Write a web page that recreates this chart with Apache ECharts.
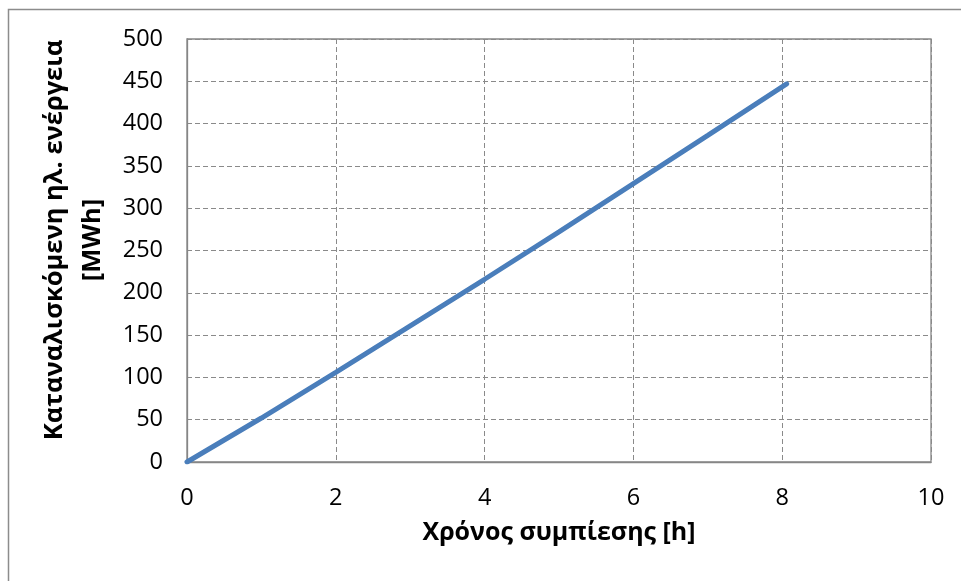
<!DOCTYPE html>
<html>
<head>
<meta charset="utf-8">
<script src="https://cdn.jsdelivr.net/npm/echarts@6/dist/echarts.min.js"></script>
<style>
html,body{margin:0;padding:0;background:#fff;}
#c{width:961px;height:581px;}
</style>
</head>
<body>
<div id="c"></div>
<script>
// Data
var timeHours = [0, 1, 2, 3, 4, 5, 6, 7, 8.06];
var energyMWh = [0, 52, 106, 161, 216, 272, 329, 386, 447];
var xTitle = 'Χρόνος συμπίεσης [h]';
var yTitleLines = ['Καταναλισκόμενη ηλ. ενέργεια', '[MWh]'];

var seriesData = timeHours.map(function (t, i) { return [t, energyMWh[i]]; });

var FONT = 'Open Sans';
var chart = echarts.init(document.getElementById('c'));
chart.setOption({
  backgroundColor: '#ffffff',
  animation: false,
  grid: {
    left: 187, right: 30, top: 39, bottom: 119,
    show: true, borderColor: '#868686', borderWidth: 1.3, containLabel: false
  },
  xAxis: {
    type: 'value', min: 0, max: 10, interval: 2,
    axisLine: { show: true, lineStyle: { color: '#868686', width: 1.3 } },
    axisTick: { show: false },
    splitLine: { show: true, lineStyle: { color: '#8a8a8a', width: 1, type: [5, 3] } },
    axisLabel: { color: '#000', fontFamily: FONT, fontSize: 23.5, margin: 24 },
    name: xTitle, nameLocation: 'middle', nameGap: 58,
    nameTextStyle: { color: '#000', fontFamily: FONT, fontSize: 25, fontWeight: 'bold' }
  },
  yAxis: {
    type: 'value', min: 0, max: 500, interval: 50,
    axisLine: { show: true, lineStyle: { color: '#868686', width: 1.3 } },
    axisTick: { show: false },
    splitLine: { show: true, lineStyle: { color: '#8a8a8a', width: 1, type: [5, 3] } },
    axisLabel: { color: '#000', fontFamily: FONT, fontSize: 23.5, margin: 24 }
  },
  graphic: [
    {
      type: 'rect', silent: true, z: -10,
      shape: { x: 8.5, y: 9.5, width: 1200, height: 1200 },
      style: { fill: 'none', stroke: '#8c8c8c', lineWidth: 1.5 }
    },
    {
      type: 'text', silent: true,
      x: 74, y: 240, rotation: Math.PI / 2,
      style: {
        text: yTitleLines.join('\n'),
        fontFamily: FONT, fontSize: 25.5, fontWeight: 'bold', fill: '#000',
        align: 'center', verticalAlign: 'middle', lineHeight: 38
      }
    }
  ],
  series: [{
    type: 'line',
    data: seriesData,
    showSymbol: false,
    smooth: false,
    lineStyle: { color: '#4a7ebb', width: 5, cap: 'round' },
    itemStyle: { color: '#4a7ebb' }
  }]
});
</script>
</body>
</html>
